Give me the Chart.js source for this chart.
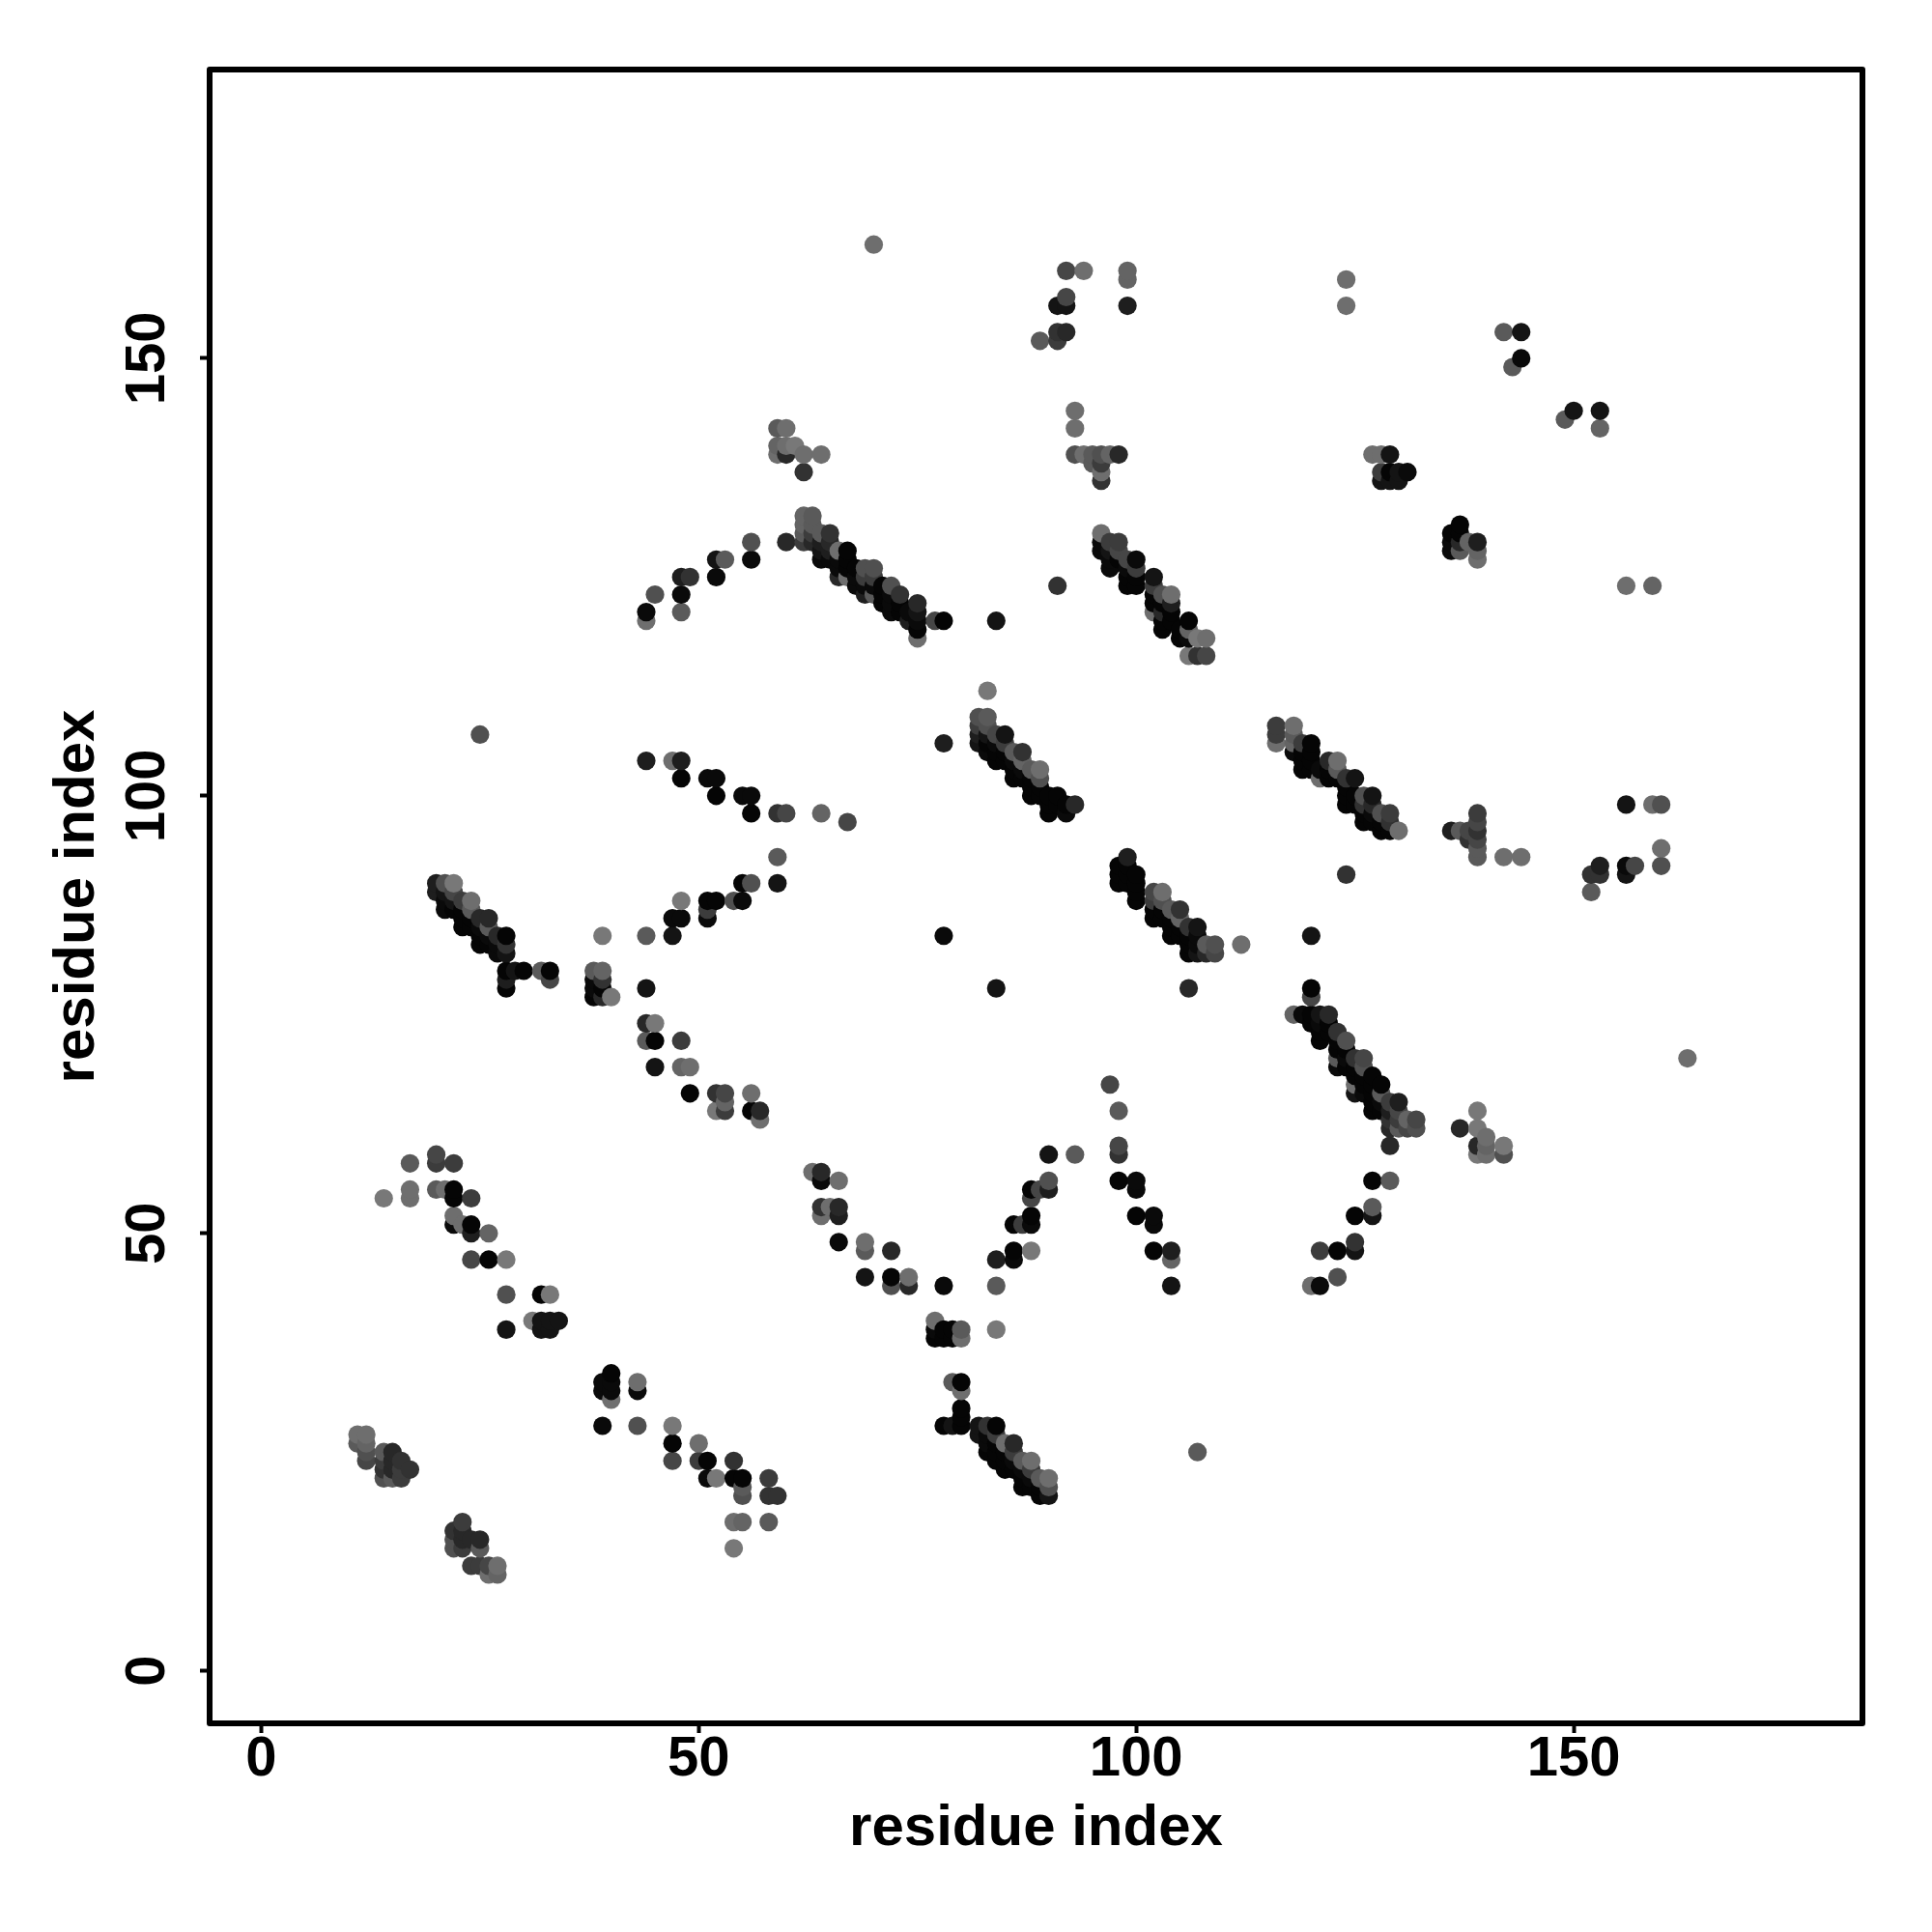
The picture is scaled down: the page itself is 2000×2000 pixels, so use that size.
<!DOCTYPE html>
<html>
<head>
<meta charset="utf-8">
<title>residue contact map</title>
<script src="https://cdn.jsdelivr.net/npm/chart.js@4/dist/chart.umd.min.js"></script>
<style>
html, body { margin: 0; padding: 0; background: #fff; }
canvas { display: block; }
</style>
</head>
<body>
<canvas id="myChart" width="2000" height="2000"></canvas>
<script>
const tickLabels = [0, 50, 100, 150];
const axisTitle = 'residue index';

// one pair per residue on the x axis: partner residues and their grey level
const y11 = [26, 27], g11 = [90, 110];
const y12 = [24, 25, 26, 27], g12 = [70, 80, 100, 110];
const y14 = [22, 23, 24, 25, 54], g14 = [80, 50, 60, 90, 120];
const y15 = [22, 23, 24, 25], g15 = [90, 40, 40, 40];
const y16 = [22, 23, 24], g16 = [60, 60, 50];
const y17 = [23, 54, 55, 58], g17 = [50, 110, 110, 90];
const y20 = [55, 58, 59, 89, 90], g20 = [90, 60, 70, 30, 30];
const y21 = [55, 87, 88, 89, 90], g21 = [110, 10, 10, 20, 80];
const y22 = [14, 15, 16, 51, 52, 54, 55, 58, 87, 88, 89, 90], g22 = [80, 80, 50, 10, 110, 5, 5, 60, 5, 20, 70, 120];
const y23 = [14, 15, 16, 17, 51, 85, 86, 87, 88], g23 = [60, 40, 40, 60, 110, 5, 5, 5, 60];
const y24 = [12, 15, 47, 50, 51, 54, 85, 86, 87, 88], g24 = [60, 40, 70, 30, 5, 60, 5, 5, 90, 110];
const y25 = [12, 14, 15, 83, 84, 85, 86, 107], g25 = [60, 90, 40, 5, 5, 10, 40, 80];
const y26 = [11, 12, 47, 50, 83, 84, 85, 86], g26 = [110, 70, 5, 100, 5, 10, 90, 40];
const y27 = [11, 12, 82, 83, 84], g27 = [100, 110, 10, 10, 40];
const y28 = [39, 43, 47, 78, 79, 80, 82, 83, 84], g28 = [20, 80, 120, 5, 30, 5, 20, 50, 5];
const y29 = [80], g29 = [20];
const y30 = [80], g30 = [5];
const y31 = [40], g31 = [120];
const y32 = [39, 40, 43, 80], g32 = [20, 20, 5, 90];
const y33 = [39, 40, 43, 79, 80], g33 = [20, 20, 120, 70, 5];
const y34 = [40], g34 = [20];
const y38 = [77, 78, 79, 80], g38 = [5, 10, 10, 90];
const y39 = [28, 32, 33, 77, 78, 79, 80, 84], g39 = [10, 10, 10, 40, 5, 50, 100, 120];
const y40 = [31, 32, 33, 34, 77], g40 = [110, 10, 10, 5, 120];
const y43 = [28, 32, 33], g43 = [80, 10, 110];
const y44 = [72, 74, 78, 84, 104, 120, 121], g44 = [90, 40, 20, 90, 30, 110, 10];
const y45 = [69, 72, 74, 123], g45 = [20, 5, 120, 80];
const y47 = [24, 26, 28, 84, 86, 104], g47 = [70, 5, 120, 20, 10, 110];
const y48 = [69, 72, 86, 88, 102, 104, 121, 123, 125], g48 = [100, 60, 10, 120, 5, 30, 90, 10, 30];
const y49 = [66, 69, 125], g49 = [5, 110, 50];
const y50 = [24, 26], g50 = [60, 110];
const y51 = [22, 24, 86, 87, 88, 102], g51 = [10, 5, 10, 60, 5, 10];
const y52 = [22, 64, 66, 88, 100, 102, 125, 127], g52 = [120, 120, 50, 5, 5, 10, 10, 20];
const y53 = [64, 65, 66, 127], g53 = [60, 100, 70, 90];
const y54 = [14, 17, 22, 24, 88], g54 = [120, 110, 5, 50, 80];
const y55 = [17, 20, 21, 22, 88, 90, 100], g55 = [100, 80, 90, 5, 10, 5, 10];
const y56 = [64, 66, 90, 98, 100, 127, 129], g56 = [5, 110, 80, 5, 10, 10, 80];
const y57 = [63, 64], g57 = [110, 40];
const y58 = [17, 20, 22], g58 = [90, 50, 60];
const y59 = [20, 90, 93, 98, 139, 140, 142], g59 = [50, 20, 90, 50, 110, 100, 90];
const y60 = [98, 129, 139, 140, 142], g60 = [70, 40, 40, 110, 110];
const y61 = [140], g61 = [120];
const y62 = [129, 130, 131, 132, 137, 139], g62 = [60, 90, 100, 100, 50, 110];
const y63 = [57, 129, 130, 131, 132], g63 = [110, 40, 60, 90, 90];
const y64 = [52, 53, 56, 57, 98, 127, 128, 129, 130, 139], g64 = [110, 50, 10, 40, 100, 10, 20, 30, 90, 110];
const y65 = [53, 127, 128, 129, 130], g65 = [110, 10, 30, 40, 50];
const y66 = [49, 52, 53, 56, 125, 126, 127, 128], g66 = [10, 30, 40, 110, 40, 10, 10, 110];
const y67 = [97, 125, 126, 127, 128], g67 = [70, 110, 5, 5, 5];
const y68 = [124, 125, 126], g68 = [10, 10, 5];
const y69 = [45, 48, 49, 123, 124, 125, 126], g69 = [20, 90, 110, 30, 10, 60, 80];
const y70 = [123, 124, 125, 126, 163], g70 = [90, 10, 60, 80, 110];
const y71 = [122, 123, 124], g71 = [5, 5, 5];
const y72 = [44, 45, 48, 121, 122, 123, 124], g72 = [80, 5, 40, 10, 10, 10, 80];
const y73 = [121, 122, 123], g73 = [5, 5, 50];
const y74 = [44, 45, 120, 121], g74 = [40, 110, 30, 10];
const y75 = [118, 119, 120, 121, 122], g75 = [110, 5, 10, 20, 40];
const y77 = [38, 39, 40, 120], g77 = [5, 10, 110, 70];
const y78 = [28, 38, 39, 44, 84, 106, 120], g78 = [5, 5, 5, 10, 10, 30, 5];
const y79 = [28, 33, 38, 39], g79 = [20, 90, 5, 5];
const y80 = [28, 29, 30, 32, 33, 38, 39], g80 = [5, 5, 5, 110, 5, 110, 90];
const y82 = [27, 28, 106, 107, 108, 109], g82 = [20, 20, 20, 30, 60, 80];
const y83 = [25, 26, 27, 28, 105, 106, 107, 108, 109, 112], g83 = [5, 10, 10, 50, 10, 5, 20, 80, 90, 120];
const y84 = [24, 25, 26, 27, 28, 39, 44, 47, 78, 104, 105, 106, 107, 120], g84 = [5, 5, 5, 60, 5, 120, 90, 30, 20, 5, 5, 10, 70, 20];
const y85 = [23, 24, 25, 26, 104, 105, 106, 107], g85 = [5, 5, 5, 110, 5, 5, 60, 20];
const y86 = [23, 24, 25, 26, 47, 48, 51, 102, 103, 104, 105], g86 = [5, 10, 60, 40, 10, 5, 5, 5, 5, 10, 90];
const y87 = [21, 22, 23, 24, 51, 102, 103, 104, 105], g87 = [5, 5, 10, 90, 60, 5, 10, 100, 50];
const y88 = [21, 22, 23, 24, 48, 51, 52, 54, 55, 100, 101, 102, 103], g88 = [5, 10, 60, 110, 120, 10, 5, 70, 5, 5, 5, 5, 90];
const y89 = [20, 21, 22, 55, 100, 101, 102, 103, 152], g89 = [5, 5, 90, 70, 5, 5, 80, 110, 90];
const y90 = [20, 21, 22, 55, 56, 59, 98, 99, 100], g90 = [20, 80, 110, 30, 80, 20, 5, 5, 5];
const y91 = [99, 100, 124, 152, 153, 156], g91 = [5, 5, 50, 60, 50, 20];
const y92 = [98, 99, 153, 156, 157, 160], g92 = [10, 5, 40, 20, 70, 70];
const y93 = [59, 99, 139, 142, 144], g93 = [90, 40, 80, 110, 110];
const y94 = [139, 160], g94 = [110, 110];
const y95 = [138, 139], g95 = [90, 90];
const y96 = [128, 129, 130, 136, 137, 138, 139], g96 = [10, 10, 110, 50, 110, 60, 80];
const y97 = [67, 126, 127, 128, 129, 139], g97 = [70, 10, 10, 20, 60, 100];
const y98 = [56, 59, 60, 64, 90, 91, 92, 127, 128, 129, 139], g98 = [5, 50, 70, 90, 5, 5, 5, 5, 70, 60, 40];
const y99 = [90, 91, 92, 93, 124, 125, 126, 127, 156, 159, 160], g99 = [5, 5, 5, 30, 5, 5, 10, 70, 30, 100, 100];
const y100 = [52, 55, 56, 88, 89, 90, 91, 124, 125, 126, 127], g100 = [5, 10, 10, 5, 5, 5, 5, 5, 5, 60, 10];
const y102 = [48, 51, 52, 86, 87, 88, 89, 121, 122, 123, 124, 125], g102 = [5, 10, 10, 5, 5, 60, 70, 110, 5, 5, 60, 20];
const y103 = [86, 87, 88, 89, 119, 120, 121, 122, 123], g103 = [5, 5, 80, 110, 5, 5, 40, 5, 80];
const y104 = [44, 47, 48, 84, 85, 86, 87, 120, 121, 122, 123], g104 = [20, 100, 30, 5, 5, 5, 90, 5, 5, 30, 110];
const y105 = [84, 85, 86, 87, 118, 119], g105 = [5, 5, 100, 50, 5, 5];
const y106 = [78, 82, 83, 84, 85, 116, 118, 119, 120], g106 = [40, 5, 5, 5, 50, 120, 10, 100, 5];
const y107 = [25, 82, 83, 84, 85, 116, 118], g107 = [90, 20, 10, 10, 20, 50, 120];
const y108 = [82, 83, 116, 118], g108 = [40, 90, 70, 110];
const y109 = [82, 83], g109 = [70, 80];
const y112 = [83], g112 = [110];
const y116 = [106, 107, 108], g116 = [110, 60, 60];
const y118 = [75, 105, 106, 107, 108], g118 = [100, 10, 100, 90, 110];
const y119 = [75, 103, 104, 105, 106], g119 = [10, 5, 5, 5, 60];
const y120 = [44, 74, 75, 77, 78, 84, 103, 104, 105, 106], g120 = [110, 5, 5, 70, 5, 20, 5, 5, 5, 5];
const y121 = [44, 48, 72, 73, 74, 75, 102, 103], g121 = [10, 60, 5, 5, 10, 20, 110, 10];
const y122 = [73, 74, 75, 102, 103, 104], g122 = [5, 5, 40, 5, 5, 40];
const y123 = [45, 48, 69, 70, 71, 72, 73, 102, 103, 104], g123 = [80, 5, 10, 90, 5, 5, 50, 5, 90, 110];
const y124 = [69, 70, 71, 72, 91, 99, 100, 101, 102, 156, 159], g124 = [5, 10, 5, 80, 50, 5, 5, 5, 50, 110, 110];
const y125 = [48, 49, 52, 66, 67, 68, 69, 70, 99, 100, 102], g125 = [20, 50, 5, 20, 110, 5, 5, 50, 5, 5, 20];
const y126 = [66, 67, 68, 69, 70, 97, 98, 99, 100], g126 = [10, 5, 5, 80, 70, 5, 5, 50, 80];
const y127 = [52, 53, 56, 64, 65, 66, 67, 68, 97, 98, 99, 100, 139], g127 = [20, 90, 5, 5, 5, 5, 5, 5, 5, 10, 40, 20, 110];
const y128 = [64, 65, 66, 67, 96, 97, 98, 136, 137, 139], g128 = [5, 10, 90, 5, 5, 5, 80, 20, 60, 110];
const y129 = [56, 60, 62, 63, 64, 65, 96, 97, 98, 136, 137, 139], g129 = [90, 40, 40, 50, 30, 60, 5, 50, 60, 20, 5, 20];
const y130 = [62, 63, 64, 65, 96, 136, 137], g130 = [90, 60, 70, 30, 110, 20, 20];
const y131 = [62, 63, 137], g131 = [70, 100, 10];
const y132 = [62, 63], g132 = [80, 70];
const y136 = [96, 128, 129, 130], g136 = [30, 10, 10, 5];
const y137 = [62, 96, 128, 129, 130, 131], g137 = [40, 90, 90, 40, 5, 5];
const y138 = [95, 96, 129], g138 = [50, 70, 100];
const y139 = [59, 60, 62, 64, 93, 94, 95, 96, 97, 98, 127, 128, 129], g139 = [120, 40, 120, 120, 90, 90, 70, 50, 70, 60, 110, 100, 30];
const y140 = [59, 60, 61], g140 = [110, 100, 110];
const y142 = [59, 60, 93, 153], g142 = [80, 120, 110, 90];
const y143 = [149], g143 = [90];
const y144 = [93, 150, 153], g144 = [110, 10, 20];
const y149 = [143], g149 = [90];
const y150 = [144], g150 = [20];
const y152 = [89, 91], g152 = [90, 50];
const y153 = [91, 92, 142, 144], g153 = [50, 30, 100, 20];
const y156 = [91, 92, 99, 124], g156 = [20, 10, 20, 110];
const y157 = [92], g157 = [70];
const y159 = [99, 124], g159 = [110, 100];
const y160 = [92, 94, 99], g160 = [80, 110, 80];
const y163 = [70], g163 = [110];

const columns = [
    [11, y11, g11], [12, y12, g12], [14, y14, g14], [15, y15, g15], [16, y16, g16], [17, y17, g17],
    [20, y20, g20], [21, y21, g21], [22, y22, g22], [23, y23, g23], [24, y24, g24], [25, y25, g25],
    [26, y26, g26], [27, y27, g27], [28, y28, g28], [29, y29, g29], [30, y30, g30], [31, y31, g31],
    [32, y32, g32], [33, y33, g33], [34, y34, g34], [38, y38, g38], [39, y39, g39], [40, y40, g40],
    [43, y43, g43], [44, y44, g44], [45, y45, g45], [47, y47, g47], [48, y48, g48], [49, y49, g49],
    [50, y50, g50], [51, y51, g51], [52, y52, g52], [53, y53, g53], [54, y54, g54], [55, y55, g55],
    [56, y56, g56], [57, y57, g57], [58, y58, g58], [59, y59, g59], [60, y60, g60], [61, y61, g61],
    [62, y62, g62], [63, y63, g63], [64, y64, g64], [65, y65, g65], [66, y66, g66], [67, y67, g67],
    [68, y68, g68], [69, y69, g69], [70, y70, g70], [71, y71, g71], [72, y72, g72], [73, y73, g73],
    [74, y74, g74], [75, y75, g75], [77, y77, g77], [78, y78, g78], [79, y79, g79], [80, y80, g80],
    [82, y82, g82], [83, y83, g83], [84, y84, g84], [85, y85, g85], [86, y86, g86], [87, y87, g87],
    [88, y88, g88], [89, y89, g89], [90, y90, g90], [91, y91, g91], [92, y92, g92], [93, y93, g93],
    [94, y94, g94], [95, y95, g95], [96, y96, g96], [97, y97, g97], [98, y98, g98], [99, y99, g99],
    [100, y100, g100], [102, y102, g102], [103, y103, g103], [104, y104, g104], [105, y105, g105],
    [106, y106, g106], [107, y107, g107], [108, y108, g108], [109, y109, g109], [112, y112, g112],
    [116, y116, g116], [118, y118, g118], [119, y119, g119], [120, y120, g120], [121, y121, g121],
    [122, y122, g122], [123, y123, g123], [124, y124, g124], [125, y125, g125], [126, y126, g126],
    [127, y127, g127], [128, y128, g128], [129, y129, g129], [130, y130, g130], [131, y131, g131],
    [132, y132, g132], [136, y136, g136], [137, y137, g137], [138, y138, g138], [139, y139, g139],
    [140, y140, g140], [142, y142, g142], [143, y143, g143], [144, y144, g144], [149, y149, g149],
    [150, y150, g150], [152, y152, g152], [153, y153, g153], [156, y156, g156], [157, y157, g157],
    [159, y159, g159], [160, y160, g160], [163, y163, g163],
];

const points = [];
const colors = [];
columns.forEach(function (col) {
    col[1].forEach(function (y, i) {
        points.push({ x: col[0], y: y });
        colors.push('rgb(' + col[2][i] + ',' + col[2][i] + ',' + col[2][i] + ')');
    });
});

// R style box round the plot region
const boxPlugin = {
    id: 'box',
    afterDraw: function (chart) {
        const a = chart.chartArea;
        const ctx = chart.ctx;
        ctx.save();
        ctx.strokeStyle = '#000';
        ctx.lineWidth = 6;
        ctx.lineJoin = 'round';
        ctx.strokeRect(a.left, a.top, a.right - a.left, a.bottom - a.top);
        ctx.restore();
    }
};

const titleFont = { family: '"Liberation Sans", Arial, sans-serif', size: 60, weight: 'bold' };
const tickFont = { family: '"Liberation Sans", Arial, sans-serif', size: 58, weight: 'bold' };

function fixedTicks(scale) {
    scale.ticks = tickLabels.map(function (v) { return { value: v }; });
}

const myChart = new Chart(document.getElementById('myChart'), {
    type: 'scatter',
    data: {
        datasets: [{
            data: points,
            pointBackgroundColor: colors,
            pointBorderWidth: 0,
            pointRadius: 9.6,
            showLine: false
        }]
    },
    options: {
        responsive: false,
        animation: false,
        layout: { padding: { left: 0, top: 72, right: 72, bottom: 0 } },
        plugins: { legend: { display: false }, tooltip: { enabled: false } },
        scales: {
            x: {
                type: 'linear',
                min: -5.9,
                max: 183,
                afterBuildTicks: fixedTicks,
                afterFit: function (scale) { scale.height = 216; },
                border: { display: false },
                grid: { drawOnChartArea: false, tickLength: 10, tickWidth: 4, tickColor: '#000' },
                ticks: { color: '#000', font: tickFont, padding: -7, maxRotation: 0, autoSkip: false },
                title: { display: true, text: axisTitle, color: '#000', font: titleFont, padding: { top: 0, bottom: 71 } }
            },
            y: {
                type: 'linear',
                min: -6,
                max: 183,
                afterBuildTicks: fixedTicks,
                afterFit: function (scale) { scale.width = 217; },
                border: { display: false },
                grid: { drawOnChartArea: false, tickLength: 10, tickWidth: 4, tickColor: '#000' },
                ticks: { color: '#000', font: tickFont, padding: 5, minRotation: 90, maxRotation: 90, crossAlign: 'center', autoSkip: false },
                title: { display: true, text: axisTitle, color: '#000', font: titleFont, padding: { top: 44, bottom: 0 } }
            }
        }
    },
    plugins: [boxPlugin]
});
</script>
</body>
</html>
